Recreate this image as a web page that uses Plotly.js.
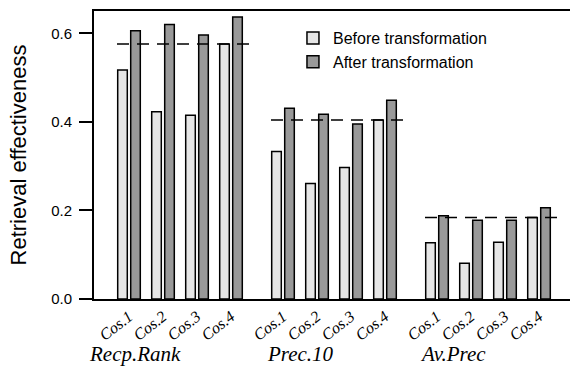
<!DOCTYPE html>
<html>
<head>
<meta charset="utf-8">
<script src="https://cdn.plot.ly/plotly-3.0.1.min.js"></script>
<style>html,body{margin:0;padding:0;background:#fff;}#chart{width:571px;height:368px;}</style>
</head>
<body>
<div id="chart"></div>
<script>
// ---- data ----
var groups = ["Recp.Rank", "Prec.10", "Av.Prec"];
var methods = ["Cos.1", "Cos.2", "Cos.3", "Cos.4"];
var before = [
  [0.517, 0.423, 0.415, 0.576],
  [0.333, 0.261, 0.297, 0.404],
  [0.127, 0.081, 0.128, 0.184]
];
var after = [
  [0.606, 0.620, 0.596, 0.637],
  [0.431, 0.417, 0.395, 0.449],
  [0.188, 0.178, 0.178, 0.206]
];
var reference = [0.576, 0.404, 0.184];
var seriesNames = ["Before transformation", "After transformation"];

// ---- layout helpers (positions in axis units) ----
var firstCenter = 35, methodStep = 34, groupStep = 154;
var xs = [], yb = [], ya = [], ticktext = [];
groups.forEach(function (g, gi) {
  methods.forEach(function (m, mi) {
    xs.push(firstCenter + gi * groupStep + mi * methodStep);
    yb.push(before[gi][mi]);
    ya.push(after[gi][mi]);
    ticktext.push(m);
  });
});

var traces = [];
traces.push({
  type: 'bar', name: seriesNames[0], x: xs, y: yb,
  width: 9.6, offset: -11.3,
  marker: {color: '#e6e6e6', line: {color: '#000', width: 1.5}}
});
traces.push({
  type: 'bar', name: seriesNames[1], x: xs, y: ya,
  width: 9.6, offset: 1.7,
  marker: {color: '#999999', line: {color: '#000', width: 1.5}}
});
groups.forEach(function (g, gi) {
  var x0 = firstCenter + gi * groupStep - 12;
  var x1 = firstCenter + gi * groupStep + 3 * methodStep + 25;
  traces.push({
    type: 'scatter', mode: 'lines', showlegend: false, hoverinfo: 'skip',
    x: [x0, x1], y: [reference[gi], reference[gi]],
    line: {color: '#000', width: 1.5, dash: '12px,8px'}
  });
});

var annotations = [];
var groupLabelX = [135, 300, 453];
groups.forEach(function (g, gi) {
  annotations.push({
    text: g, xref: 'paper', yref: 'paper',
    x: (groupLabelX[gi] - 94) / 476, y: -0.2396,
    xanchor: 'center', yanchor: 'bottom', showarrow: false,
    font: {family: 'Liberation Serif, Times New Roman, serif', size: 21, color: '#000', style: 'italic'}
  });
});

var layout = {
  width: 571, height: 368,
  margin: {l: 94, r: 1, t: 11, b: 69},
  paper_bgcolor: '#fff', plot_bgcolor: '#fff',
  barmode: 'overlay',
  showlegend: true,
  legend: {
    x: 0.418, y: 0.965, xanchor: 'left', yanchor: 'top',
    bgcolor: 'rgba(0,0,0,0)', borderwidth: 0,
    font: {family: 'Liberation Sans, Arial, sans-serif', size: 16, color: '#000'},
    tracegroupgap: 0
  },
  xaxis: {
    range: [0, 476], showgrid: false, zeroline: false,
    showline: true, mirror: true, linecolor: '#000', linewidth: 2,
    ticks: '', tickvals: xs, ticktext: ticktext, tickangle: -38,
    tickfont: {family: 'Liberation Serif, Times New Roman, serif', size: 16, color: '#000', style: 'italic'},
    automargin: false
  },
  yaxis: {
    range: [0, 0.6504], showgrid: false, zeroline: false,
    showline: true, linecolor: '#000', linewidth: 2,
    ticks: 'outside', ticklen: 13, tickwidth: 2, tickcolor: '#000',
    tickvals: [0, 0.2, 0.4, 0.6], tickformat: '.1f',
    ticklabelstandoff: 4,
    tickfont: {family: 'Liberation Sans, Arial, sans-serif', size: 15, color: '#000'},
    title: {text: 'Retrieval effectiveness', standoff: 18,
      font: {family: 'Liberation Sans, Arial, sans-serif', size: 22, color: '#000'}},
    automargin: false
  },
  annotations: annotations
};

Plotly.newPlot('chart', traces, layout, {displayModeBar: false, staticPlot: true});
</script>
</body>
</html>
